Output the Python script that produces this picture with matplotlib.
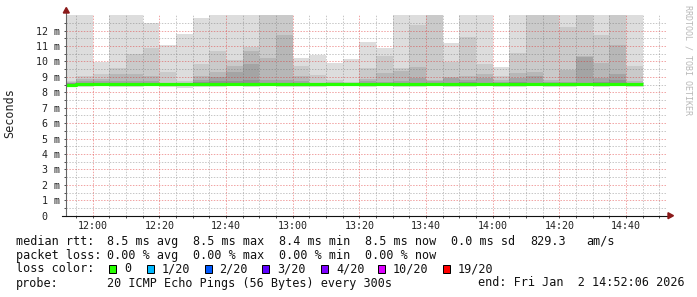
import numpy as np
import pandas as pd
import matplotlib
matplotlib.use("Agg")
import matplotlib.pyplot as plt
import matplotlib.dates as mdates
import matplotlib.ticker as ticker
from matplotlib.patches import Rectangle, Polygon

plt.rcParams['font.family'] = ['DejaVu Sans Mono']

# 5 minute slots, 20 pings per slot, values in ms
slot_start = pd.date_range("2026-01-02 11:50", "2026-01-02 14:40", freq="5min")
graph_end = pd.Timestamp("2026-01-02 14:52:06")

rtt_max = [15.2, 14.1, 9.99, 16.3, 14.8, 12.52, 11.07, 11.8, 12.82, 17.4, 15.6, 14.3,
           18.2, 16.9, 10.25, 10.4, 9.93, 10.16, 11.27, 10.88, 13.9, 15.1, 17.7, 11.18,
           14.6, 13.8, 9.62, 16.2, 19.3, 15.5, 14.4, 17.1, 13.7, 18.6, 14.2]
rtt_p19 = [8.75, 9.05, 9.19, 9.56, 10.49, 10.85, 9.32, 8.7, 9.84, 10.68, 10.1, 10.96,
           13.6, 14.2, 9.71, 9.12, 8.8, 8.67, 9.56, 10.32, 9.56, 12.37, 13.4, 9.99,
           11.57, 9.84, 9.05, 10.57, 14.1, 13.3, 12.26, 13.8, 11.72, 14.5, 9.71]
rtt_p18 = [8.65, 8.86, 8.86, 9.19, 9.19, 9.06, 8.63, 8.62, 9.05, 9.32, 9.71, 10.68,
           10.25, 11.72, 9.05, 8.62, 8.65, 8.6, 8.86, 9.28, 9.38, 9.62, 8.8, 8.98,
           9.05, 9.19, 8.8, 9.28, 9.34, 8.8, 9.45, 10.35, 9.93, 11.07, 8.7]
rtt_p17 = [8.6, 8.73, 8.7, 8.73, 8.73, 8.75, 8.6, 8.6, 8.8, 9.02, 9.32, 9.84,
           8.8, 8.8, 8.7, 8.6, 8.6, 8.58, 8.7, 8.65, 8.7, 8.9, 8.7, 8.9,
           8.8, 8.9, 8.65, 8.9, 9.06, 8.65, 8.65, 10.3, 8.9, 9.19, 8.62]
rtt_p16 = [8.58, 8.62, 8.6, 8.62, 8.62, 8.62, 8.58, 8.58, 8.65, 8.7, 8.73, 8.8,
           8.62, 8.62, 8.6, 8.58, 8.58, 8.56, 8.6, 8.6, 8.62, 8.62, 8.6, 8.62,
           8.65, 8.62, 8.6, 8.65, 8.63, 8.6, 8.6, 8.62, 8.65, 8.8, 8.58]
rtt_min = [8.38, 8.35, 8.38, 8.36, 8.37, 8.38, 8.36, 8.3, 8.37, 8.36, 8.38, 8.37,
           8.38, 8.36, 8.33, 8.32, 8.38, 8.38, 8.37, 8.38, 8.37, 8.36, 8.38, 8.37,
           8.36, 8.38, 8.35, 8.37, 8.38, 8.36, 8.37, 8.38, 8.37, 8.38, 8.37]
rtt_median = [8.50, 8.52, 8.52, 8.52, 8.52, 8.52, 8.52, 8.51, 8.52, 8.52, 8.52, 8.53,
              8.52, 8.52, 8.51, 8.51, 8.52, 8.52, 8.52, 8.52, 8.52, 8.52, 8.52, 8.52,
              8.52, 8.52, 8.51, 8.52, 8.52, 8.52, 8.52, 8.52, 8.53, 8.53, 8.52]

loss_labels = ["0", "1/20", "2/20", "3/20", "4/20", "10/20", "19/20"]
loss_colors = ["#26ff00", "#00b8ff", "#0059ff", "#5e00ff", "#7e00ff", "#dd00ff", "#ff0000"]

W, H = 697, 297
fig = plt.figure(figsize=(W / 100, H / 100), dpi=100)
fig.patch.set_facecolor('white')


def fx(px):
    return px / W


def fy(py):
    return 1 - py / H


ax = fig.add_axes([fx(66.3), fy(215.67), 600 / W, (215.67 - 14.7) / H])

edges = mdates.date2num(list(slot_start) + [slot_start[-1] + pd.Timedelta("5min")])


def ext(a):
    return np.append(a, a[-1])


# smoke: outer ping pairs light, inner ones darker
layers = [(rtt_min, rtt_max, "#dddddd"),
          (rtt_median, rtt_p19, "#cacaca"),
          (rtt_median, rtt_p18, "#b7b7b7"),
          (rtt_median, rtt_p17, "#a4a4a4"),
          (rtt_median, rtt_p16, "#919191")]
for lo, hi, col in layers:
    ax.fill_between(edges, ext(lo), ext(hi), step="post", color=col, lw=0, zorder=1)

ax.step(edges, ext(rtt_median), where="post", color=loss_colors[0], lw=2.3,
        solid_capstyle="butt", zorder=3)

ax.set_xlim(mdates.date2num(graph_end - pd.Timedelta("3h")), mdates.date2num(graph_end))
ax.set_ylim(0, 13.03)

ax.xaxis.set_major_locator(mdates.MinuteLocator(byminute=[0, 20, 40]))
ax.xaxis.set_minor_locator(mdates.MinuteLocator(byminute=range(0, 60, 5)))
ax.xaxis.set_major_formatter(mdates.DateFormatter("%H:%M"))
ax.yaxis.set_major_locator(ticker.FixedLocator(np.arange(0, 13)))
ax.yaxis.set_minor_locator(ticker.FixedLocator(np.arange(0.5, 13, 1.0)))
ax.yaxis.set_major_formatter(ticker.FuncFormatter(lambda v, p: "0  " if v == 0 else "%d m" % v))

# grid drawn over the smoke, semi transparent
ax.set_axisbelow(False)
ax.grid(which='minor', color='#666666', alpha=0.4, lw=0.65, ls=(0, (1.6, 1.6)))
ax.grid(which='major', color='#dd2222', alpha=0.45, lw=0.65, ls=(0, (1.6, 1.6)))

for s in ax.spines.values():
    s.set_visible(False)
ax.tick_params(which='both', length=1.6, width=0.72, color='#555555', labelsize=7.2,
               labelcolor='#222222')
ax.tick_params(axis='y', pad=3)
ax.tick_params(axis='x', pad=2.5)

# axis lines with arrows
ax.plot([0, 0], [0, 1.03], transform=ax.transAxes, color='#666666', lw=0.8,
        clip_on=False, zorder=4)
ax.plot([-0.008, 1.008], [0, 0], transform=ax.transAxes, color='#111111', lw=0.8,
        clip_on=False, zorder=4)
arrow_col = '#8b1a1a'
fig.patches.append(Polygon([(fx(66.3), fy(7.5)), (fx(63.3), fy(13)), (fx(69.3), fy(13))],
                           closed=True, transform=fig.transFigure, color=arrow_col))
fig.patches.append(Polygon([(fx(673.5), fy(215.67)), (fx(668), fy(212.7)), (fx(668), fy(218.7))],
                           closed=True, transform=fig.transFigure, color=arrow_col))

fig.text(fx(10), fy(113), "Seconds", rotation=90, ha='center', va='center', fontsize=8.5,
         color='#222222')
fig.text(fx(688), fy(5), "RRDTOOL / TOBI OETIKER", rotation=270, ha='center', va='top',
         fontsize=6.0, color='#b8b8b8')

fs = 8.5
txt = dict(fontsize=fs, va='center', color='#111111')
row1 = [(16, "median rtt:"), (107, "8.5 ms avg"), (193, "8.5 ms max"), (279, "8.4 ms min"),
        (365, "8.5 ms now"), (451, "0.0 ms sd"), (530, "829.3"), (586, "am/s")]
row2 = [(16, "packet loss:"), (107, "0.00 % avg"), (193, "0.00 % max"), (279, "0.00 % min"),
        (365, "0.00 % now")]
for x, s in row1:
    fig.text(fx(x), fy(241.5), s, **txt)
for x, s in row2:
    fig.text(fx(x), fy(255.3), s, **txt)

fig.text(fx(16), fy(269), "loss color:", **txt)
box_x = [109, 147, 204.5, 262, 321, 378, 443]
for bx, lab, col in zip(box_x, loss_labels, loss_colors):
    fig.patches.append(Rectangle((fx(bx), fy(273)), 7 / W, 8 / H, transform=fig.transFigure,
                                 facecolor=col, edgecolor='black', lw=0.72))
    fig.text(fx(bx + 15), fy(269), lab, **txt)

fig.text(fx(16), fy(283), "probe:", **txt)
fig.text(fx(107), fy(283), "20 ICMP Echo Pings (56 Bytes) every 300s", **txt)
fig.text(fx(478), fy(283), "end: Fri Jan  2 14:52:06 2026", **txt)

fig.savefig("out.png", dpi=100, facecolor='white')
